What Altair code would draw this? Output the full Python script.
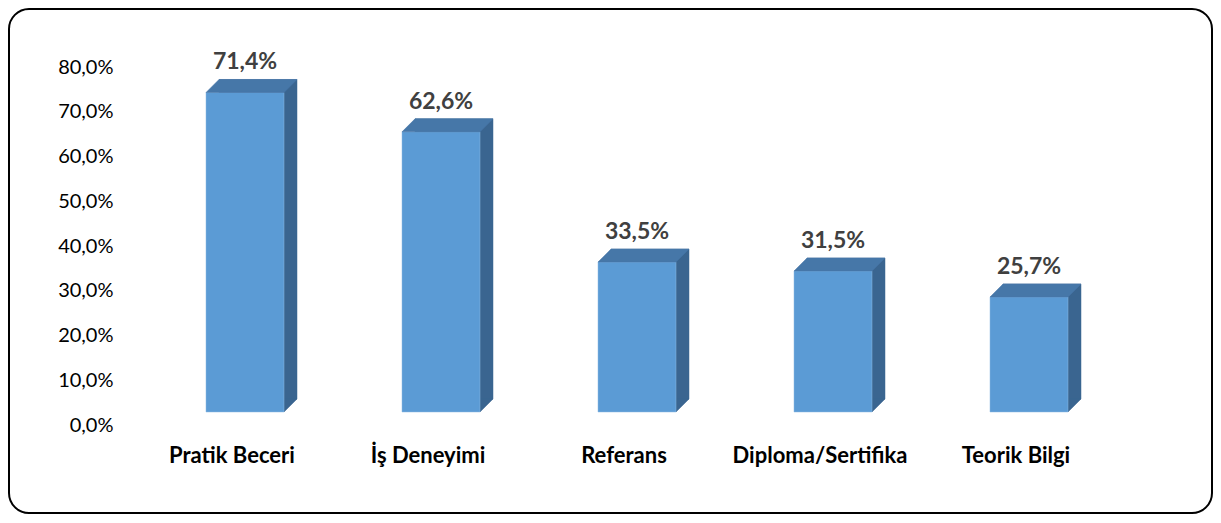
import altair as alt
import pandas as pd

categories = ["Pratik Beceri", "İş Deneyimi", "Referans", "Diploma/Sertifika", "Teorik Bilgi"]
values = [71.4, 62.6, 33.5, 31.5, 25.7]
y_ticks = [0, 10, 20, 30, 40, 50, 60, 70, 80]

df = pd.DataFrame({"cat": categories, "val": values})

PW, PH = 980, 358
BAR_W = 78
D = 13
FRONT = "#5B9BD5"
TOP = "#4677A8"
SIDE = "#3A6590"
FONT = "Lato"

x_axis = alt.Axis(title=None, labelAngle=0, labelFont=FONT, labelFontSize=22,
                  labelFontWeight="bold", labelColor="#000000", domain=False,
                  ticks=False, labelPadding=33, labelOffset=-13, grid=False)
y_axis = alt.Axis(title=None, values=y_ticks, labelFont=FONT, labelFontSize=20,
                  labelColor="#000000", domain=False, ticks=False, grid=False,
                  labelPadding=34, labelOffset=13,
                  labelExpr="replace(format(datum.value, '.1f'), '.', ',') + '%'")

x_enc = alt.X("cat:N", sort=categories,
              scale=alt.Scale(paddingInner=0, paddingOuter=0), axis=x_axis)
y_enc = alt.Y("val:Q", scale=alt.Scale(domain=[0, 80], nice=False), axis=y_axis)
y0_enc = alt.Y("zero:Q", scale=alt.Scale(domain=[0, 80], nice=False), axis=y_axis)

base = alt.Chart(df).transform_calculate(
    zero="0",
    label="replace(format(datum.val, '.1f'), '.', ',') + '%'"
)

border = alt.Chart(pd.DataFrame({"k": [0]})).mark_rect(
    fillOpacity=0, stroke="#000000", strokeWidth=2, cornerRadius=20
).encode(x=alt.value(-138), x2=alt.value(1065), y=alt.value(-45), y2=alt.value(459))

back = base.mark_bar(width=BAR_W, xOffset=D, yOffset=-D, y2Offset=-D, color=SIDE,
                     stroke=SIDE, strokeWidth=0.5).encode(x=x_enc, y=y_enc)

bottom_tri = base.mark_point(
    shape=f"M {BAR_W/2} {-D} L {BAR_W/2} 0 L {BAR_W/2 + D} {-D} Z",
    size=4, filled=True, opacity=1, color=SIDE, stroke=SIDE, strokeWidth=0.5
).encode(x=x_enc, y=y0_enc)

front = base.mark_bar(width=BAR_W, color=FRONT, stroke="#8DB8E2", strokeWidth=0.5).encode(x=x_enc, y=y_enc)

top = base.mark_point(
    shape=f"M {-BAR_W/2} 0 L {BAR_W/2} 0 L {BAR_W/2 + D} {-D} L {-BAR_W/2 + D} {-D} Z",
    size=4, filled=True, opacity=1, color=TOP, stroke=TOP, strokeWidth=0.5
).encode(x=x_enc, y=y_enc)

text = base.mark_text(dy=-30, font=FONT, fontSize=23, fontWeight="bold", color="#404040").encode(
    x=x_enc, y=y_enc, text="label:N")

chart = alt.layer(border, back, bottom_tri, front, top, text).properties(
    width=PW, height=PH,
    autosize=alt.AutoSizeParams(type="none"),
    padding={"left": 139, "top": 46, "right": 86, "bottom": 103},
    background="#ffffff",
).configure_view(stroke=None)

chart.save("out.html", embed_options={"renderer": "svg", "actions": False})
